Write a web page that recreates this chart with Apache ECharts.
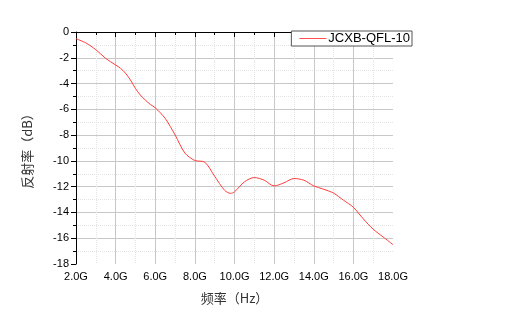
<!DOCTYPE html>
<html><head><meta charset="utf-8">
<script src="https://cdn.jsdelivr.net/npm/echarts@6/dist/echarts.min.js"></script>
<style>html,body{margin:0;padding:0;background:#fff}#c{width:508px;height:328px}</style>
</head><body><div id="c"></div>
<script>
const freqs = [2,2.5,3,3.5,4,4.25,4.5,4.75,5,5.25,5.5,5.75,6,6.5,7,7.5,8,8.5,9,9.5,9.8,10,10.5,11,11.5,12,12.5,13,13.5,14,14.5,15,15.5,16,16.5,17,17.5,18];
const reflect = [-0.52,-0.85,-1.37,-2.05,-2.56,-2.82,-3.2,-3.73,-4.38,-4.9,-5.28,-5.62,-5.88,-6.7,-7.98,-9.4,-9.97,-10.1,-11.2,-12.28,-12.52,-12.4,-11.63,-11.29,-11.5,-11.94,-11.7,-11.37,-11.5,-11.94,-12.2,-12.5,-13.05,-13.6,-14.5,-15.3,-15.9,-16.5];
const seriesName = 'JCXB-QFL-10';
const chart = echarts.init(document.getElementById('c'));
const font = 'Liberation Sans, Arial, sans-serif';
chart.setOption({
  animation:false,
  grid:{left:76,right:115,top:32,bottom:64},
  legend:{
    right:96, top:31, orient:'horizontal',
    backgroundColor:'#fff',
    borderColor:'#555', borderWidth:1, borderRadius:0,
    padding:[1,2,1,8], itemWidth:27, itemHeight:10, itemGap:4,
    textStyle:{fontFamily:font,fontSize:13,color:'#000',padding:[0,0,0,-3]},
    data:[{name:seriesName, icon:'path://M0,0 L30,0 L30,1 L0,1 Z'}]
  },
  xAxis:{
    type:'value', min:2, max:18, interval:2,
    name:'频率（Hz）', nameLocation:'middle', nameGap:28,
    nameTextStyle:{fontFamily:'Noto Sans CJK SC, sans-serif',fontSize:13,color:'#333'},
    axisLine:{show:true,lineStyle:{color:'#000',width:1}},
    axisTick:{show:true,inside:false,length:5,lineStyle:{color:'#000'}},
    minorTick:{show:true,splitNumber:2,length:3,lineStyle:{color:'#000'}},
    axisLabel:{fontFamily:font,fontSize:11,color:'#000',margin:7,formatter:v=>v.toFixed(1)+'G'},
    splitLine:{show:true,showMinLine:false,showMaxLine:false,lineStyle:{color:'#c8c8c8',width:1}},
    minorSplitLine:{show:true,lineStyle:{color:'#e4e4e4',type:'dotted',width:1}}
  },
  yAxis:{
    type:'value', min:-18, max:0, interval:2,
    name:'反射率（dB）', nameLocation:'middle', nameGap:42,
    nameTextStyle:{fontFamily:'Noto Sans CJK SC, sans-serif',fontSize:13,color:'#333'},
    axisLine:{show:true,lineStyle:{color:'#000',width:1}},
    axisTick:{show:true,inside:false,length:5,lineStyle:{color:'#000'}},
    minorTick:{show:true,splitNumber:2,length:3,lineStyle:{color:'#000'}},
    axisLabel:{fontFamily:font,fontSize:11,color:'#000',margin:7},
    splitLine:{show:true,showMinLine:false,showMaxLine:false,lineStyle:{color:'#c8c8c8',width:1}},
    minorSplitLine:{show:true,lineStyle:{color:'#e4e4e4',type:'dotted',width:1}}
  },
  series:[{
    name:seriesName, type:'line', symbol:'none', smooth:0.3,
    lineStyle:{color:'#ff3b3b',width:1},
    itemStyle:{color:'#ff3b3b'},
    data:freqs.map((f,i)=>[f,reflect[i]])
  }]
});
</script></body></html>
